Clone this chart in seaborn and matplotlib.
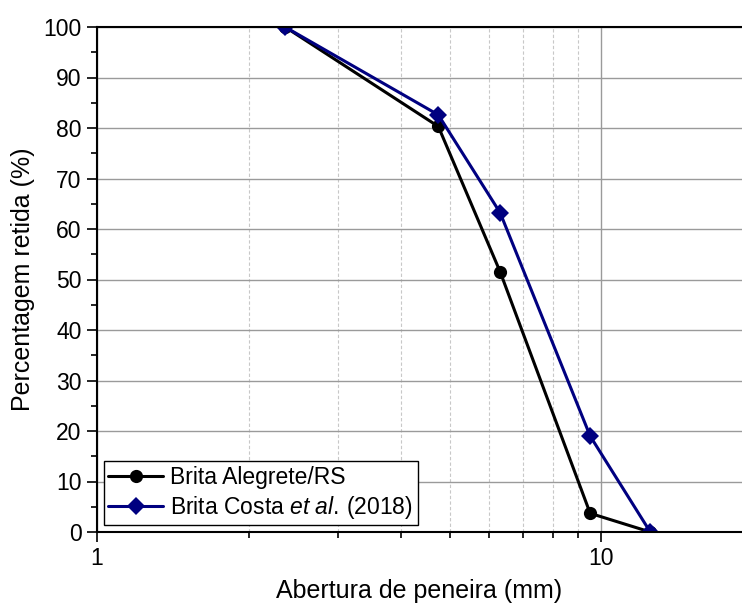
import matplotlib
matplotlib.use("Agg")
import matplotlib.pyplot as plt
import seaborn as sns
import pandas as pd
from matplotlib.ticker import FixedLocator, MultipleLocator, NullFormatter, FuncFormatter

sieves = [2.36, 4.75, 6.3, 9.5, 12.5]
alegrete = [100, 80.3, 51.5, 3.7, 0]
costa = [100, 82.6, 63.2, 19.0, 0]
series_names = ["Brita Alegrete/RS", "Brita Costa $\\it{et\\ al.}\\,$(2018)"]

df = pd.DataFrame({
    "x": sieves * 2,
    "y": alegrete + costa,
    "serie": [series_names[0]] * len(sieves) + [series_names[1]] * len(sieves),
})

sns.set_style("white")
plt.rcParams["font.family"] = ["Liberation Sans", "DejaVu Sans"]
plt.rcParams["mathtext.fontset"] = "custom"
plt.rcParams["mathtext.it"] = "Liberation Sans:italic"
plt.rcParams["mathtext.rm"] = "Liberation Sans"
plt.rcParams["text.color"] = "black"
plt.rcParams["axes.labelcolor"] = "black"
plt.rcParams["xtick.color"] = "black"
plt.rcParams["ytick.color"] = "black"

fig = plt.figure(figsize=(7.42, 6.03), dpi=100)
ax = fig.add_axes([97/742, 1 - 532/603, 1 - 97/742, (532 - 27)/603])

ax.set_xscale("log")
ax.set_xlim(1, 19)
ax.set_ylim(0, 100)

ax.xaxis.set_major_locator(FixedLocator([1, 10]))
ax.xaxis.set_minor_locator(FixedLocator([2, 3, 4, 5, 6, 7, 8, 9]))
ax.xaxis.set_major_formatter(FuncFormatter(lambda v, p: f"{v:g}"))
ax.xaxis.set_minor_formatter(NullFormatter())
ax.yaxis.set_major_locator(MultipleLocator(10))
ax.yaxis.set_minor_locator(MultipleLocator(5))
ax.grid(True, which="major", color="#9a9a9a", lw=1.0, ls="-")
ax.grid(True, which="minor", axis="x", color="#c8c8c8", lw=0.8, ls=(0, (3, 2)))
ax.set_axisbelow(True)

sns.lineplot(data=df, x="x", y="y", hue="serie", style="serie",
             palette=["black", "#000080"], markers=["o", "D"], dashes=False,
             markersize=9.5, markeredgewidth=0, lw=2.2, ax=ax, sort=False)

ax.spines["right"].set_visible(False)
for sp in ["left", "bottom", "top"]:
    ax.spines[sp].set_visible(True)
    ax.spines[sp].set_color("black")
    ax.spines[sp].set_linewidth(1.5)

ax.tick_params(axis="both", which="major", direction="out", length=7, width=1.2,
               labelsize=16.5, color="black", labelcolor="black",
               bottom=True, left=True, pad=4)
ax.tick_params(axis="both", which="minor", direction="out", length=4, width=1.2,
               color="black", bottom=True, left=True)

ax.set_xlabel("Abertura de peneira (mm)", fontsize=18, labelpad=6, color="black")
ax.set_ylabel("Percentagem retida (%)", fontsize=18, labelpad=6, color="black")

leg = ax.legend(loc="lower left", fontsize=16.5, frameon=True, fancybox=False,
                edgecolor="black", framealpha=1, handlelength=2.4,
                borderpad=0.2, labelspacing=0.2, handletextpad=0.3,
                borderaxespad=0.3)
leg.get_frame().set_linewidth(1.0)
leg.set_title(None)
for t in leg.get_texts():
    t.set_color("black")

fig.savefig("out.png", dpi=100)
